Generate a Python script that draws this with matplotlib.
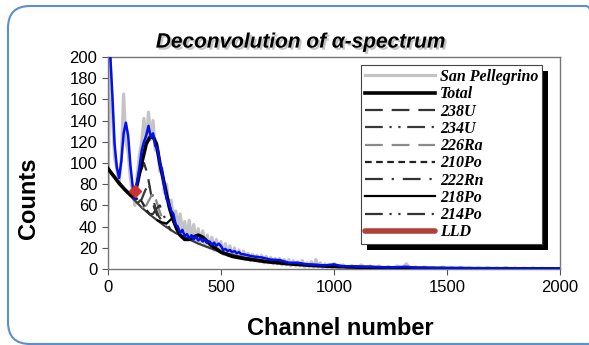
import numpy as np
import matplotlib
matplotlib.use('Agg')
import matplotlib.pyplot as plt
import matplotlib.patheffects as pe
from matplotlib.patches import FancyBboxPatch, Rectangle
from matplotlib.transforms import IdentityTransform

# San Pellegrino spectrum: 0..1000 step 10, then 1020..2000 step 20
sp_x = list(range(0, 1001, 10)) + list(range(1020, 2001, 20))
sp_y = [55, 200, 150, 105, 95, 80, 105, 165, 120, 110, 85, 72, 60, 88, 108, 120, 142, 118, 148, 122,
        140, 112, 115, 92, 95, 72, 80, 58, 65, 48, 55, 40, 52, 35, 45, 30, 46, 28, 42, 26,
        38, 25, 36, 22, 32, 20, 30, 18, 28, 17, 26, 14, 24, 13, 22, 12, 20, 11, 18, 10,
        17, 9, 15, 8, 14, 8, 13, 7, 13, 6, 12, 6, 11, 5, 10, 5, 10, 4, 9, 4,
        9, 3, 8, 3, 7, 3, 8, 2, 6, 2, 7, 2, 9, 2, 6, 1, 5, 1, 4, 1, 5,
        1, 4, 1, 3, 0.5, 4, 1, 3, 0.5, 3, 0.5, 2.5, 0.5, 3, 1, 5, 0.5, 2, 0.3, 2,
        0.3, 1.5, 0.3, 2, 0.3, 1.5, 0.2, 1.5, 0.2, 1.2, 0.2, 1, 0.2, 1.2, 0.1, 1, 0.1, 1.5, 0.1, 1,
        0.1, 0.8, 0.1, 1, 0.1, 0.8, 0.1, 0.6, 0.1, 0.5]

# blue spectrum: 5, then 10..600 step 10, then 640..2000 step 40
blue_x = [5] + list(range(10, 601, 10)) + list(range(640, 2001, 40))
blue_y = [210, 205, 165, 118, 96, 86, 102, 128, 138, 126, 98, 78, 66, 82, 96, 112, 120, 126, 135, 124,
          128, 116, 114, 100, 92, 78, 66, 62, 55, 52, 42, 40, 34, 37, 31, 33, 29, 32, 28, 31,
          27, 29, 26, 28, 25, 26, 23, 25, 22, 24, 22, 18, 19, 17, 18, 16, 17, 15, 16, 14,
          14,
          12, 11, 9, 8.5, 6, 6, 4.5, 4, 3.5, 4.5, 2.5, 2.8, 2, 2.2, 1.8, 1.5, 1.8, 2.2, 1.2, 1.3,
          1, 1.1, 0.9, 1, 0.8, 0.8, 0.7, 0.8, 0.6, 0.7, 0.6, 0.6, 0.5, 0.5, 0.5]

total_x = [0, 25, 50, 75, 100, 115, 130, 150, 170, 185, 200, 215, 230, 245, 260, 275, 290, 305, 320, 340,
           360, 380, 400, 420, 440, 460, 480, 500, 550, 600, 700, 800, 900, 1000, 1200, 1500, 2000]
total_y = [95, 88, 81, 75, 70, 68, 80, 100, 118, 124, 125, 118, 100, 85, 70, 56, 46, 38, 32, 28,
           28, 30, 32, 30, 26, 22, 19, 16, 12, 10, 7, 5, 3.5, 2.5, 1.3, 0.5, 0.1]

bg_x = [0, 50, 100, 150, 200, 250, 300, 350, 400, 450, 500, 600, 700, 800, 900, 1000, 1200, 1500, 2000]
bg_y = [95, 81, 69, 58, 49, 41, 34, 29, 24, 20, 16, 11, 7.5, 5, 3.5, 2.3, 1, 0.3, 0]

comp_x = {
    '238U':  [115, 130, 145, 160, 175, 190, 205, 220],
    '234U':  [130, 150, 165, 180, 195, 210, 225, 240],
    '226Ra': [150, 170, 185, 200, 215, 230, 245, 260],
    '210Po': [110, 125, 140, 155, 170, 185, 200],
    '222Rn': [180, 200, 215, 230, 245, 260, 280],
    '218Po': [220, 240, 260, 275, 285, 300, 320, 340],
    '214Po': [340, 370, 390, 405, 420, 445, 470],
}
comp_y = {
    '238U':  [67, 80, 92, 100, 90, 72, 58, 50],
    '234U':  [62, 66, 74, 80, 72, 58, 50, 45],
    '226Ra': [58, 60, 66, 72, 64, 54, 46, 41],
    '210Po': [69, 66, 67, 62, 56, 52, 49],
    '222Rn': [52, 52, 57, 60, 52, 44, 36],
    '218Po': [46, 44, 43, 46, 48, 40, 32, 28],
    '214Po': [28, 30, 32, 32, 29, 23, 19],
}
comp_style = {
    '238U':  dict(color='#333333', dashes=(8, 4)),
    '234U':  dict(color='#3a3a3a', dashes=(8, 3, 1, 3, 1, 3)),
    '226Ra': dict(color='#8a8a8a', dashes=(8, 4)),
    '210Po': dict(color='#222222', dashes=(3, 2)),
    '222Rn': dict(color='#333333', dashes=(8, 4, 1, 4)),
    '218Po': dict(color='#000000', dashes=()),
    '214Po': dict(color='#333333', dashes=(8, 3, 1, 3, 1, 3)),
}

lld_x = [110, 130]
lld_y = [74, 74]

fig = plt.figure(figsize=(5.89, 3.45), dpi=100)
ax = fig.add_axes([0.183, 0.220, 0.768, 0.615])

ax.plot(sp_x, sp_y, color='#c4c4c4', lw=2.3, label='San Pellegrino', zorder=2)
ax.plot(total_x, total_y, color='black', lw=2.6, label='Total', zorder=4)
ax.plot(bg_x, bg_y, color='#3c3c3c', lw=1.6, zorder=3)
for name in comp_x:
    st = comp_style[name]
    ln, = ax.plot(comp_x[name], comp_y[name], color=st['color'], lw=1.6, label=name, zorder=3)
    if st['dashes']:
        ln.set_dashes(st['dashes'])
ax.plot(blue_x, blue_y, color='#0010ee', lw=1.8, zorder=5)
ax.plot(lld_x, lld_y, color='#b0403c', lw=4, solid_capstyle='round', label='LLD', zorder=6)
ax.plot([120], [74], marker='D', color='#d03030', ms=6, zorder=6)

ax.set_xlim(0, 2000)
ax.set_ylim(0, 200)
ax.set_xticks([0, 500, 1000, 1500, 2000])
ax.set_yticks(range(0, 201, 20))
ax.tick_params(direction='out', length=4, labelsize=12, color='#555555')
for lab in ax.get_xticklabels() + ax.get_yticklabels():
    lab.set_family('Liberation Sans')
for s in ax.spines.values():
    s.set_color('#777777')
    s.set_linewidth(1.0)

leg = ax.legend(loc='upper left', bbox_to_anchor=(0.559, 0.962), frameon=True, fancybox=False,
                prop={'family': 'Liberation Serif', 'weight': 'bold', 'style': 'italic', 'size': 11.5},
                handlelength=4.4, handletextpad=0.3, labelspacing=0.08, borderpad=0.25,
                borderaxespad=0, framealpha=1, facecolor='white')
leg.get_frame().set_edgecolor('#444444')
leg.get_frame().set_linewidth(0.8)
leg.set_zorder(10)

fig.canvas.draw()
bb = leg.get_window_extent()
ax.add_patch(Rectangle((bb.x0 + 6, bb.y0 - 6), bb.width, bb.height, transform=IdentityTransform(),
                       facecolor='black', edgecolor='none', clip_on=False, zorder=9))

fig.text(0.511, 0.878, 'Deconvolution of α-spectrum', ha='center', va='center',
         family='Liberation Sans', weight='bold', style='italic', fontsize=15,
         path_effects=[pe.withSimplePatchShadow(offset=(1.5, -1.5), shadow_rgbFace='#888888', alpha=0.5)])
fig.text(0.049, 0.426, 'Counts', rotation=90, ha='center', va='center',
         family='Liberation Sans', weight='bold', fontsize=17)
fig.text(0.577, 0.049, 'Channel number', ha='center', va='center',
         family='Liberation Sans', weight='bold', fontsize=17)

border = FancyBboxPatch((8, 1), 600, 338, boxstyle='round,pad=0,rounding_size=22',
                        transform=IdentityTransform(), facecolor='none', edgecolor='#5b8fd0', lw=1.5)
fig.add_artist(border)

fig.savefig('out.png', dpi=100)
